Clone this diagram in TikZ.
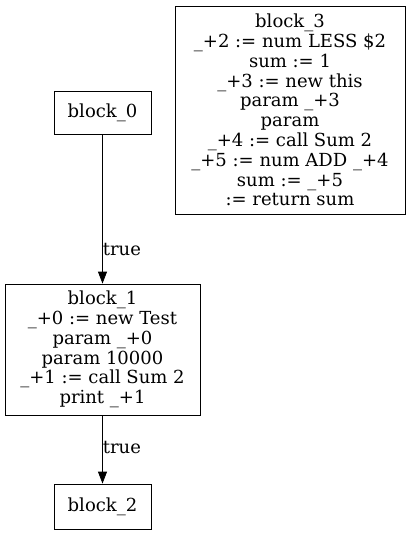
\documentclass[tikz,border=0pt]{standalone}
\usepackage{fontspec}
\setmainfont{DejaVu Serif}
\usetikzlibrary{arrows.meta}
\begin{document}
\begin{tikzpicture}[x=1pt,y=-1pt,
  blk/.style={draw,line width=0.8pt,inner sep=0pt,align=center,font=\fontsize{18}{19.8}\selectfont},
  edge/.style={-{Triangle[length=12pt,width=9pt]},line width=0.8pt},
  lbl/.style={font=\fontsize{18}{19.8}\selectfont,inner sep=0pt}]
\useasboundingbox (0,0) rectangle (411,536);
\node[blk,minimum width=97pt,minimum height=43pt] (b0) at (102.5,112.5) {block\_0};
\node[blk,minimum width=195pt,minimum height=131pt] (b1) at (102.5,349.5) {block\_1\\\_+0 := new Test\\param \_+0\\param 10000\\\_+1 := call Sum 2\\print \_+1};
\node[blk,minimum width=97pt,minimum height=45pt] (b2) at (102.5,506.5) {block\_2};
\node[blk,minimum width=230pt,minimum height=208pt] (b3) at (290,110) {block\_3\\\_+2 := num LESS \$2\\sum := 1\\\_+3 := new this\\param \_+3\\param\\\_+4 := call Sum 2\\\_+5 := num ADD \_+4\\sum := \_+5\\:= return sum};
\draw[edge] (b0) -- node[lbl,right,pos=0.77,xshift=0pt]{true} (b1);
\draw[edge] (b1) -- node[lbl,right,pos=0.47,xshift=0pt]{true} (b2);
\end{tikzpicture}
\end{document}
